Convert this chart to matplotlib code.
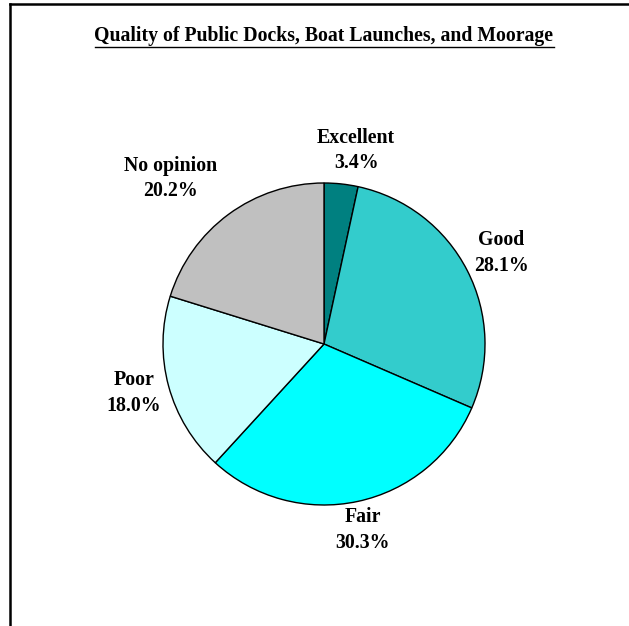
import numpy as np
import matplotlib
matplotlib.use("Agg")
import matplotlib.pyplot as plt
from matplotlib.lines import Line2D

categories = ["Excellent", "Good", "Fair", "Poor", "No opinion"]
shares = [3.4, 28.1, 30.3, 18.0, 20.2]
colors = ["#008080", "#33CCCC", "#00FFFF", "#CCFFFF", "#C0C0C0"]
# label placement: radial distance and angular nudge (degrees)
label_dist = [1.22, 1.24, 1.18, 1.22, 1.40]
label_nudge = [-3.3, 0.0, -0.3, -0.7, 6.4]

title = "Quality of Public Docks, Boat Launches, and Moorage"

W, H = 629, 626
fig = plt.figure(figsize=(W / 100, H / 100), dpi=100)
fig.patch.set_facecolor("white")

font = dict(family="Liberation Serif", weight="bold")

# Pie axes: radius 1 maps to ~161 px, centred near (324, 344) px
R = 161
lim = 1.5
side = 2 * lim * R
cx, cy = 324, 344
ax = fig.add_axes([(cx - side / 2) / W, (H - cy - side / 2) / H, side / W, side / H])
wedges, _ = ax.pie(shares, colors=colors, startangle=90, counterclock=False,
                   wedgeprops=dict(edgecolor="black", linewidth=1.0))
ax.set_xlim(-lim, lim)
ax.set_ylim(-lim, lim)
ax.set_aspect("equal")
ax.axis("off")

for w, name, val, d, nd in zip(wedges, categories, shares, label_dist, label_nudge):
    ang = np.deg2rad((w.theta1 + w.theta2) / 2 + nd)
    ax.text(d * np.cos(ang), d * np.sin(ang), f"{name}\n{val:.1f}%",
            ha="center", va="center", fontsize=14.3, linespacing=1.36, **font)

# Title with underline
t = fig.text(cx / W, 1 - 36 / H, title, ha="center", va="center", fontsize=14.2, **font)
fig.canvas.draw()
bb = t.get_window_extent()
uy = bb.y0 - 0.5
fig.add_artist(Line2D([bb.x0 / W, bb.x1 / W], [uy / H, uy / H], color="black",
                      linewidth=1.0, transform=fig.transFigure))

# Frame edges on the left and top
fig.add_artist(Line2D([9.5 / W, 9.5 / W], [0, 1 - 3.5 / H], color="black",
                      linewidth=1.8, transform=fig.transFigure))
fig.add_artist(Line2D([9.5 / W, 1], [1 - 3.5 / H, 1 - 3.5 / H], color="black",
                      linewidth=1.8, transform=fig.transFigure))

fig.savefig("out.png", dpi=100, facecolor="white")
